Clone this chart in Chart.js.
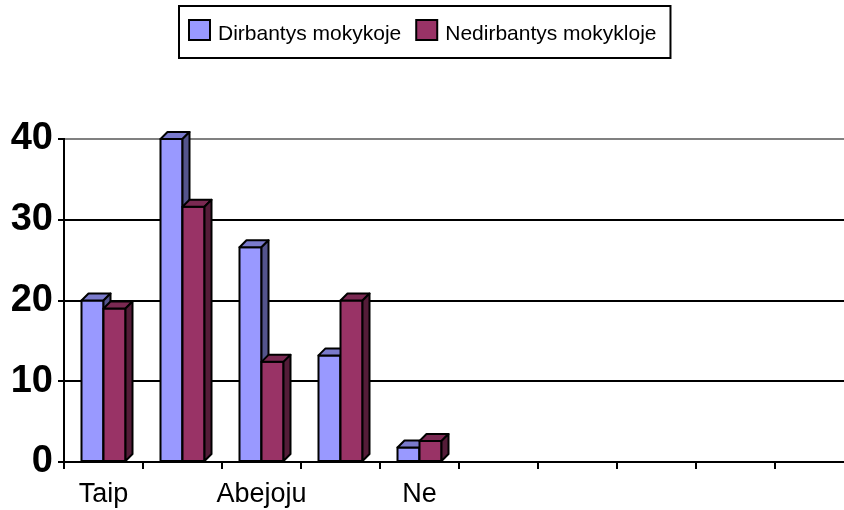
<!DOCTYPE html>
<html>
<head>
<meta charset="utf-8">
<script src="https://cdn.jsdelivr.net/npm/chart.js@4/dist/chart.umd.min.js"></script>
<style>
html,body{margin:0;padding:0;overflow:hidden;background:#fff;width:844px;height:510px}
#wrap{position:absolute;left:0;top:0;width:856px;height:510px}
</style>
</head>
<body>
<div id="wrap"><canvas id="c" width="856" height="510"></canvas></div>
<script>
const categories = ["Taip", "", "Abejoju", "", "Ne", "", "", "", "", ""];
const seriesNames = ["Dirbantys mokykoje", "Nedirbantys mokykloje"];
const dirbantys = [20, 40, 26.6, 13.2, 1.8, null, null, null, null, null];
const nedirbantys = [19, 31.6, 12.4, 20, 2.6, null, null, null, null, null];
const yTicks = [0, 10, 20, 30, 40];

const FONT = "'Liberation Sans', Arial, sans-serif";
const frontColors = ['#9999FF', '#993366'];
const topColors = ['#7A7ACC', '#7A2952'];
const sideColors = ['#54548C', '#541C38'];
const DEPTH = 7;

const bar3d = {
  id: 'bar3d',
  afterDatasetsDraw(chart) {
    const c = chart.ctx;
    chart.data.datasets.forEach((ds, di) => {
      const meta = chart.getDatasetMeta(di);
      meta.data.forEach((el, i) => {
        if (ds.data[i] == null) return;
        const p = el.getProps(['x', 'y', 'base', 'width'], true);
        const l = p.x - p.width / 2, r = p.x + p.width / 2;
        const y = p.y, b = p.base;
        c.save();
        c.lineWidth = 2; c.strokeStyle = '#000'; c.lineJoin = 'round';
        c.fillStyle = frontColors[di];
        c.beginPath(); c.rect(l, y, r - l, b - y); c.fill(); c.stroke();
        c.beginPath();
        c.moveTo(l, y); c.lineTo(l + DEPTH, y - DEPTH); c.lineTo(r + DEPTH, y - DEPTH); c.lineTo(r, y); c.closePath();
        c.fillStyle = topColors[di]; c.fill(); c.stroke();
        c.beginPath();
        c.moveTo(r, y); c.lineTo(r + DEPTH, y - DEPTH); c.lineTo(r + DEPTH, b - DEPTH); c.lineTo(r, b); c.closePath();
        c.fillStyle = sideColors[di]; c.fill(); c.stroke();
        c.restore();
      });
    });
  }
};

const legendBox = {
  id: 'legendBox',
  afterDraw(chart) {
    const c = chart.ctx;
    c.save();
    c.font = '21px ' + FONT;
    c.textBaseline = 'alphabetic';
    c.textAlign = 'left';
    let x = 189;
    const startX = x - 10;
    let endX = x;
    chart.data.datasets.forEach((ds, i) => {
      c.fillStyle = frontColors[i];
      c.fillRect(x, 20, 21, 20);
      c.lineWidth = 2; c.strokeStyle = '#000';
      c.strokeRect(x, 20, 21, 20);
      const tx = x + 21 + 8;
      c.fillStyle = '#000';
      c.fillText(ds.label, tx, 40);
      endX = tx + c.measureText(ds.label).width;
      x = endX + 15;
    });
    c.lineWidth = 2; c.strokeStyle = '#000';
    c.strokeRect(startX, 6, endX + 14 - startX, 52);
    c.restore();
  }
};

new Chart(document.getElementById('c'), {
  type: 'bar',
  data: {
    labels: categories,
    datasets: [
      { label: seriesNames[0], data: dirbantys, backgroundColor: frontColors[0], borderColor: '#000', borderWidth: 2 },
      { label: seriesNames[1], data: nedirbantys, backgroundColor: frontColors[1], borderColor: '#000', borderWidth: 2 }
    ]
  },
  options: {
    responsive: false,
    animation: false,
    devicePixelRatio: 1,
    layout: { padding: { top: 139, right: 2, bottom: 0, left: 0 } },
    plugins: { legend: { display: false }, tooltip: { enabled: false }, title: { display: false } },
    datasets: { bar: { categoryPercentage: 44 / 79, barPercentage: 1 } },
    scales: {
      x: {
        grid: { display: true, drawOnChartArea: false, drawTicks: true, tickLength: 7, color: '#000', lineWidth: 2, offset: true },
        border: { display: true, color: '#000', width: 2 },
        ticks: { autoSkip: false, maxRotation: 0, minRotation: 0, padding: 9, color: '#000', font: { family: FONT, size: 27 } },
        afterFit: s => { s.height = 48; }
      },
      y: {
        min: 0, max: 40,
        afterBuildTicks: s => { s.ticks = yTicks.map(v => ({ value: v })); },
        grid: { color: c => (c.tick && c.tick.value === 40 ? '#808080' : '#000'), tickColor: '#000', lineWidth: 2, tickLength: 6, drawTicks: true },
        border: { display: true, color: '#000', width: 2 },
        ticks: { padding: 5, color: '#000', font: { family: FONT, size: 38, weight: 'bold' } },
        afterFit: s => { s.width = 64; }
      }
    }
  },
  plugins: [bar3d, legendBox]
});
</script>
</body>
</html>
